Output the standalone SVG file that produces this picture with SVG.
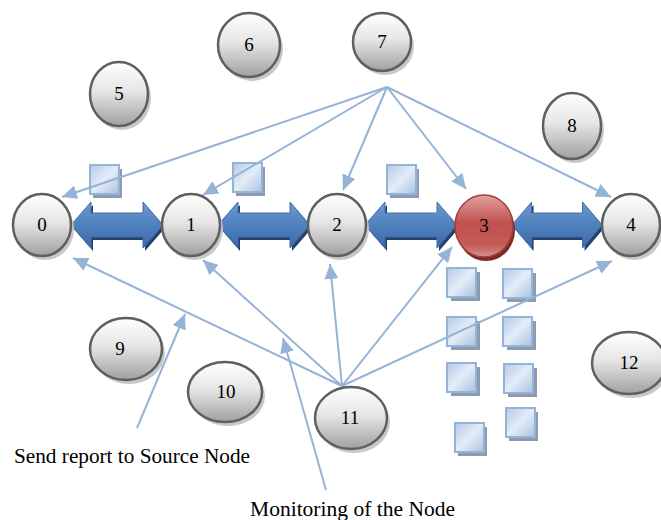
<svg xmlns="http://www.w3.org/2000/svg" width="661" height="520" viewBox="0 0 661 520">
<defs>
<linearGradient id="gn" x1="0" y1="0" x2="0" y2="1">
<stop offset="0" stop-color="#ffffff"/><stop offset="0.45" stop-color="#e6e6e6"/><stop offset="1" stop-color="#a0a0a0"/>
</linearGradient>
<linearGradient id="gr" x1="0" y1="0" x2="0" y2="1">
<stop offset="0" stop-color="#e2a3a1"/><stop offset="0.45" stop-color="#c0504d"/><stop offset="0.8" stop-color="#c45a57"/><stop offset="1" stop-color="#d9908d"/>
</linearGradient>
<linearGradient id="ga" x1="0" y1="0" x2="0" y2="1">
<stop offset="0" stop-color="#6d98cf"/><stop offset="0.5" stop-color="#4f81bd"/><stop offset="1" stop-color="#3a6aa8"/>
</linearGradient>
<linearGradient id="gs" x1="0" y1="0" x2="1" y2="1">
<stop offset="0" stop-color="#b4cbe8"/><stop offset="0.5" stop-color="#e4ecf7"/><stop offset="1" stop-color="#a9c1e1"/>
</linearGradient>
<marker id="ah" markerUnits="userSpaceOnUse" markerWidth="16" markerHeight="14" refX="15" refY="7" orient="auto">
<path d="M0,0 L15,7 L0,14 z" fill="#95b3d7"/>
</marker>
<path id="dar" d="M0,0 L20,-23 L20,-12 L72,-12 L72,-23 L92,0 L72,23 L72,12 L20,12 L20,23 Z"/>
<rect id="sq" x="0" y="0" width="29" height="29"/>
</defs>
<style>
.node ellipse.b{fill:url(#gn);stroke:#5f5f5f;stroke-width:2.5}
.node ellipse.s{fill:#c8c8c8}
.node text{font-family:"Liberation Serif","Times New Roman",serif;font-size:19px;text-anchor:middle;fill:#000}
.conn line{stroke:#95b3d7;stroke-width:2;marker-end:url(#ah)}
.sqs use.f{fill:url(#gs);stroke:#95b3d7;stroke-width:2}
.sqs use.sh{fill:#8d9bb0}
.da use.f{fill:url(#ga);stroke:#3f6ea8;stroke-width:1}
.da use.sh{fill:#24406e}
.lbl{font-family:"Liberation Serif","Times New Roman",serif;font-size:20px;fill:#000}
</style>
<rect width="661" height="520" fill="#ffffff"/>

<g id="squares" class="sqs">
<use href="#sq" class="sh" x="93" y="169"/><use href="#sq" class="f" x="90" y="165"/>
<use href="#sq" class="sh" x="236" y="167"/><use href="#sq" class="f" x="233" y="163"/>
<use href="#sq" class="sh" x="390" y="169"/><use href="#sq" class="f" x="387" y="165"/>
<use href="#sq" class="sh" x="451" y="272"/><use href="#sq" class="f" x="447" y="268"/>
<use href="#sq" class="sh" x="507" y="273"/><use href="#sq" class="f" x="503" y="269"/>
<use href="#sq" class="sh" x="451" y="321"/><use href="#sq" class="f" x="447" y="317"/>
<use href="#sq" class="sh" x="507" y="321"/><use href="#sq" class="f" x="503" y="317"/>
<use href="#sq" class="sh" x="451" y="367"/><use href="#sq" class="f" x="447" y="363"/>
<use href="#sq" class="sh" x="508" y="368"/><use href="#sq" class="f" x="504" y="364"/>
<use href="#sq" class="sh" x="458" y="427"/><use href="#sq" class="f" x="455" y="423"/>
<use href="#sq" class="sh" x="509" y="412"/><use href="#sq" class="f" x="506" y="408"/>
</g>

<g id="connectors" class="conn">
<line x1="387" y1="87" x2="62" y2="197"/>
<line x1="387" y1="87" x2="203" y2="195"/>
<line x1="387" y1="87" x2="343" y2="190"/>
<line x1="387" y1="87" x2="466" y2="189"/>
<line x1="387" y1="87" x2="611" y2="197"/>
<line x1="342" y1="386" x2="73" y2="258"/>
<line x1="342" y1="386" x2="203" y2="260"/>
<line x1="342" y1="386" x2="330" y2="264"/>
<line x1="342" y1="386" x2="452" y2="247"/>
<line x1="342" y1="386" x2="612" y2="261"/>
<line x1="137" y1="428" x2="185" y2="314"/>
<line x1="326" y1="490" x2="283" y2="338"/>
</g>

<g id="links" class="da">
<use href="#dar" class="sh" transform="translate(73,228)"/><use href="#dar" class="f" transform="translate(71,225)"/>
<use href="#dar" class="sh" transform="translate(220,228)"/><use href="#dar" class="f" transform="translate(218,225)"/>
<use href="#dar" class="sh" transform="translate(367,228)"/><use href="#dar" class="f" transform="translate(365,225)"/>
<use href="#dar" class="sh" transform="translate(514,228) scale(0.98,1)"/><use href="#dar" class="f" transform="translate(512,225) scale(0.98,1)"/>
</g>

<g id="n0" class="node"><ellipse class="s" cx="45" cy="229" rx="29" ry="31"/><ellipse class="b" cx="42" cy="225" rx="29" ry="31"/><text x="42" y="231">0</text></g>
<g id="n1" class="node"><ellipse class="s" cx="194" cy="229" rx="29" ry="31"/><ellipse class="b" cx="191" cy="225" rx="29" ry="31"/><text x="191" y="231">1</text></g>
<g id="n2" class="node"><ellipse class="s" cx="340" cy="229" rx="29" ry="31"/><ellipse class="b" cx="337" cy="225" rx="29" ry="31"/><text x="337" y="231">2</text></g>
<g id="n3" class="node"><ellipse cx="486" cy="230" rx="29" ry="31" fill="#7c2a28"/><ellipse cx="484" cy="226" rx="29" ry="31" fill="url(#gr)" stroke="#a33e3b" stroke-width="1.5"/><text x="484" y="232">3</text></g>
<g id="n4" class="node"><ellipse class="s" cx="634" cy="229" rx="29" ry="31"/><ellipse class="b" cx="631" cy="225" rx="29" ry="31"/><text x="631" y="231">4</text></g>
<g id="n5" class="node"><ellipse class="s" cx="122" cy="98" rx="29" ry="32"/><ellipse class="b" cx="119" cy="94" rx="29" ry="32"/><text x="119" y="100">5</text></g>
<g id="n6" class="node"><ellipse class="s" cx="252" cy="49" rx="31" ry="32"/><ellipse class="b" cx="249" cy="45" rx="31" ry="32"/><text x="249" y="51">6</text></g>
<g id="n7" class="node"><ellipse class="s" cx="385" cy="46" rx="29" ry="29"/><ellipse class="b" cx="382" cy="42" rx="29" ry="29"/><text x="382" y="48">7</text></g>
<g id="n8" class="node"><ellipse class="s" cx="575" cy="130" rx="29" ry="33"/><ellipse class="b" cx="572" cy="126" rx="29" ry="33"/><text x="572" y="132">8</text></g>
<g id="n9" class="node"><ellipse class="s" cx="129" cy="353" rx="36" ry="31"/><ellipse class="b" cx="126" cy="349" rx="36" ry="31"/><text x="120" y="355">9</text></g>
<g id="n10" class="node"><ellipse class="s" cx="228" cy="396" rx="37" ry="30"/><ellipse class="b" cx="225" cy="392" rx="37" ry="30"/><text x="226" y="398">10</text></g>
<g id="n11" class="node"><ellipse class="s" cx="354" cy="422" rx="36" ry="31"/><ellipse class="b" cx="351" cy="418" rx="36" ry="31"/><text x="350" y="424">11</text></g>
<g id="n12" class="node"><ellipse class="s" cx="632" cy="367" rx="37" ry="31"/><ellipse class="b" cx="629" cy="363" rx="37" ry="31"/><text x="629" y="369">12</text></g>

<text class="lbl" x="14" y="463" textLength="236" lengthAdjust="spacingAndGlyphs">Send report to Source Node</text>
<text class="lbl" x="250" y="516" textLength="205" lengthAdjust="spacingAndGlyphs">Monitoring of the Node</text>
</svg>
